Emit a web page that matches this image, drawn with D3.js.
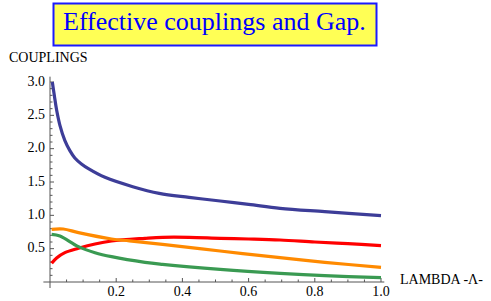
<!DOCTYPE html>
<html>
<head>
<meta charset="utf-8">
<script src="https://cdn.jsdelivr.net/npm/d3@7"></script>
<style>
  body { margin: 0; background: #fff; }
  #wrap { position: relative; width: 491px; height: 301px; }
  #wrap svg { position: absolute; left: 0; top: 0; }
  .lbl { position: absolute; white-space: nowrap; line-height: 1; color: #000; }
  #wrap .lbl, #wrap svg text { font-family: "Liberation Serif", "Times New Roman", serif !important; }
</style>
</head>
<body>
<div id="wrap"><svg id="chart" width="491" height="301"></svg></div>
<script>
// values
const blueX = [0.007, 0.013, 0.02, 0.03, 0.045, 0.06, 0.075, 0.095, 0.116, 0.166, 0.25, 0.33, 0.42, 0.514, 0.6, 0.695, 0.83, 1.0];
const blueY = [3.0, 2.8, 2.58, 2.35, 2.12, 1.97, 1.86, 1.77, 1.7, 1.57, 1.43, 1.33, 1.27, 1.215, 1.165, 1.105, 1.055, 0.995];

const redX = [0.005, 0.02, 0.045, 0.086, 0.136, 0.186, 0.287, 0.34, 0.42, 0.514, 0.6, 0.695, 0.8, 0.9, 1.0];
const redY = [0.28, 0.36, 0.44, 0.505, 0.57, 0.615, 0.655, 0.67, 0.67, 0.655, 0.645, 0.63, 0.6, 0.575, 0.545];

const orangeX = [0.005, 0.04, 0.086, 0.186, 0.24, 0.34, 0.514, 0.695, 0.83, 1.0];
const orangeY = [0.79, 0.795, 0.74, 0.645, 0.617, 0.565, 0.465, 0.365, 0.295, 0.22];

const greenX = [0.005, 0.03, 0.086, 0.136, 0.186, 0.287, 0.34, 0.514, 0.695, 0.83, 1.0];
const greenY = [0.715, 0.69, 0.53, 0.44, 0.38, 0.295, 0.265, 0.19, 0.13, 0.095, 0.065];

const xTicks = [0.2, 0.4, 0.6, 0.8, 1.0];
const yTicks = [0.5, 1.0, 1.5, 2.0, 2.5, 3.0];

const series = [
  { xs: blueX, ys: blueY, color: "#3d3d98" },
  { xs: redX, ys: redY, color: "#ff0000" },
  { xs: orangeX, ys: orangeY, color: "#ff8a00" },
  { xs: greenX, ys: greenY, color: "#3a9a52" }
];

const svg = d3.select("#chart");
const wrap = d3.select("#wrap");

// scales
const x = d3.scaleLinear().domain([0, 1]).range([50, 381]);
const y = d3.scaleLinear().domain([0, 3]).range([282, 82]);

//Html text label, placed by its baseline
function label(px, baseline, txt, size, anchor, color) {
  const shift = anchor === "end" ? "-100%" : anchor === "middle" ? "-50%" : "0";
  wrap.append("div")
    .attr("class", "lbl")
    .style("left", px + "px")
    .style("top", (baseline - 0.8375 * size) + "px")
    .style("font-size", size + "px")
    .style("font-family", "'Liberation Serif', serif", "important")
    .style("color", color || "#000")
    .style("transform", `translateX(${shift})`)
    .text(txt);
}

// title box
svg.append("rect")
  .attr("x", 53.5).attr("y", 3.5)
  .attr("width", 323).attr("height", 42)
  .attr("fill", "#ffff55")
  .attr("stroke", "#1a1aff")
  .attr("stroke-width", 2);
label(63, 31, "Effective couplings and Gap.", 26, "start", "#0000ff");

// axis labels
label(9, 63, "COUPLINGS", 14);
label(400, 285, "LAMBDA -\u039B-", 14);

const axisColor = "#555";
const gAxes = svg.append("g");

// axis lines
gAxes.append("line")
  .attr("x1", x(-0.02)).attr("x2", x(1.01))
  .attr("y1", y(0)).attr("y2", y(0))
  .attr("stroke", axisColor);
gAxes.append("line")
  .attr("x1", x(0)).attr("x2", x(0))
  .attr("y1", y(-0.09)).attr("y2", y(3.08))
  .attr("stroke", axisColor);

// x ticks (minor every 0.05)
const xMinor = d3.range(1, 21).map(i => i * 0.05);
gAxes.selectAll("line.xt")
  .data(xMinor)
  .enter().append("line")
  .attr("class", "xt")
  .attr("x1", d => x(d)).attr("x2", d => x(d))
  .attr("y1", y(0))
  .attr("y2", (d, i) => y(0) - ((i + 1) % 4 === 0 ? 4 : 2.5))
  .attr("stroke", axisColor);

// y ticks (minor every 0.1)
const yMinor = d3.range(1, 31).map(i => i * 0.1);
gAxes.selectAll("line.yt")
  .data(yMinor)
  .enter().append("line")
  .attr("class", "yt")
  .attr("y1", d => y(d)).attr("y2", d => y(d))
  .attr("x1", x(0))
  .attr("x2", (d, i) => x(0) + ((i + 1) % 5 === 0 ? 4 : 2.5))
  .attr("stroke", axisColor);

// tick labels
xTicks.forEach(d => label(x(d), 297, d.toFixed(1), 14, "middle"));
yTicks.forEach(d => label(45, y(d) + 4.5, d.toFixed(1), 14, "end"));

// curves
const line = d3.line()
  .x(d => x(d[0]))
  .y(d => y(d[1]))
  .curve(d3.curveCatmullRom.alpha(0.5));

svg.append("g").selectAll("path")
  .data(series)
  .enter().append("path")
  .attr("d", s => line(d3.zip(s.xs, s.ys)))
  .attr("fill", "none")
  .attr("stroke", s => s.color)
  .attr("stroke-width", 3.2)
  .attr("stroke-linecap", "butt");
</script>
</body>
</html>
